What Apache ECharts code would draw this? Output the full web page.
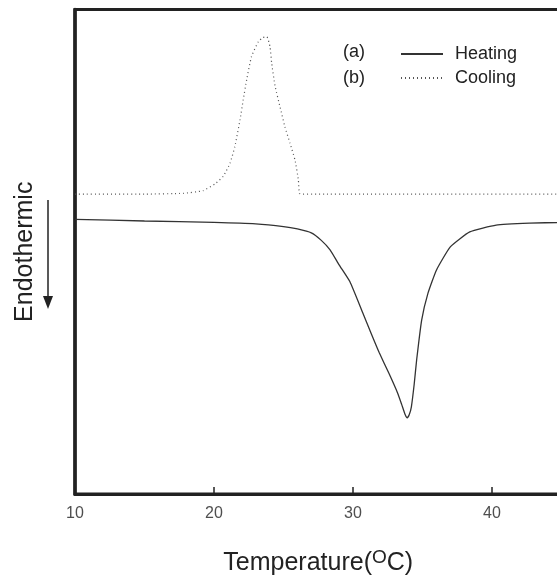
<!DOCTYPE html>
<html>
<head>
<meta charset="utf-8">
<script src="https://cdn.jsdelivr.net/npm/echarts@6/dist/echarts.min.js"></script>
<style>html,body{margin:0;padding:0;background:#fff;}#c{width:557px;height:575px;}</style>
</head>
<body>
<div id="c"></div>
<script>
// Temperature (°C) and relative heat-flow values (arbitrary units, endothermic down)
const heatingT = [10, 15, 20, 23, 25, 26, 27, 27.7, 28.35, 29.0, 29.78, 30.7, 31.3, 31.9, 32.6, 33.2, 33.5, 33.75, 33.9, 34.05, 34.2, 34.4, 34.58, 34.94, 35.4, 36.0, 37.0, 38.4, 40.3, 42.7, 45];
const heatingV = [56.7, 56.35, 56.05, 55.75, 55.2, 54.7, 53.9, 52.4, 50.4, 47.3, 43.8, 37.4, 33.2, 29.1, 24.8, 20.9, 18.5, 16.4, 15.7, 16.4, 18.0, 22.6, 27.7, 35.9, 41.5, 46.2, 51.0, 54.1, 55.5, 55.9, 56.05];
const coolingT = [10, 15, 17.8, 19.2, 20.07, 20.67, 21.15, 21.5, 21.87, 22.1, 22.35, 22.7, 23.2, 23.5, 23.8, 24.03, 24.15, 24.4, 24.75, 25.1, 25.47, 25.83, 26.07, 26.14, 26.3, 45];
const coolingV = [61.9, 61.9, 62.06, 62.6, 64.0, 65.6, 68.25, 71.7, 77.2, 81.3, 85.5, 90.3, 93.4, 94.2, 94.4, 92.3, 88.9, 84.1, 79.9, 75.8, 72.4, 68.9, 64.8, 62.06, 61.9, 61.9];
const xTicks = [10, 20, 30, 40];
const seriesNames = ['Heating', 'Cooling'];
const seriesTags = ['(a)', '(b)'];

const zip = (a, b) => a.map((v, i) => [v, b[i]]);
const chart = echarts.init(document.getElementById('c'));
chart.setOption({
  animation: false,
  backgroundColor: '#fff',
  textStyle: { fontFamily: 'Liberation Sans, Arial, sans-serif' },
  // plot area continues past the right edge of the picture (cropped as in the original)
  grid: { left: 75, right: -4.5, top: 9.5, bottom: 81, outerBoundsMode: 'none', containLabel: false,
    show: true, borderColor: '#222', borderWidth: 3, backgroundColor: 'transparent' },
  legend: {
    orient: 'vertical', left: 400, top: 45, itemWidth: 42, itemHeight: 18, itemGap: 6, padding: 0,
    data: seriesNames, textStyle: { fontSize: 18, lineHeight: 18, color: '#222', padding: [0, 0, 0, 7] },
    itemStyle: { opacity: 0 }
  },
  xAxis: {
    type: 'value', min: 10, max: 45, interval: 10,
    axisLine: { show: true, lineStyle: { color: '#222', width: 3 } },
    axisTick: { show: true, inside: true, length: 7, customValues: xTicks, lineStyle: { color: '#222', width: 1.5 } },
    axisLabel: { show: false },
    splitLine: { show: false },
    name: 'Temperature({sup|O}C)', nameLocation: 'middle', nameGap: 54,
    nameTextStyle: { fontSize: 25, color: '#222', rich: { sup: { fontSize: 19, color: '#222', verticalAlign: 'top', padding: [0, 0, 12, 0] } } }
  },
  yAxis: {
    type: 'value', min: 0, max: 100,
    axisLine: { show: true, lineStyle: { color: '#222', width: 3.5 } },
    axisTick: { show: false }, axisLabel: { show: false }, splitLine: { show: false },
    name: 'Endothermic', nameLocation: 'middle', nameGap: 37, nameRotate: 90,
    nameTextStyle: { fontSize: 25, color: '#222' }
  },
  graphic: [
    { type: 'text', left: 343, top: 43, style: { text: seriesTags[0], fontSize: 18, fill: '#222', fontFamily: 'Liberation Sans, Arial, sans-serif' } },
    { type: 'text', left: 343, top: 69, style: { text: seriesTags[1], fontSize: 18, fill: '#222', fontFamily: 'Liberation Sans, Arial, sans-serif' } },
    { type: 'line', shape: { x1: 48, y1: 200, x2: 48, y2: 304 }, style: { stroke: '#222', lineWidth: 1.5 } },
    { type: 'polygon', shape: { points: [[43, 296], [53, 296], [48, 309]] }, style: { fill: '#222' } }
  ],
  series: [
    { name: seriesNames[0], type: 'line', data: zip(heatingT, heatingV), showSymbol: false, symbol: 'none',
      smooth: 0.15, lineStyle: { color: '#333', width: 1.3 }, itemStyle: { color: '#333' } },
    { name: seriesNames[1], type: 'line', data: zip(coolingT, coolingV), showSymbol: false, symbol: 'none',
      smooth: 0.15, lineStyle: { color: '#555', width: 1.2, type: [1, 3] }, itemStyle: { color: '#555' } },
    // tick labels of the temperature axis, placed through the axis scale
    { name: 'ticks', type: 'scatter', data: xTicks.map(t => [t, 0]), symbolSize: 0, silent: true, clip: false,
      label: { show: true, position: 'bottom', distance: 12, fontSize: 16, color: '#222',
        fontFamily: 'Liberation Sans, Arial, sans-serif', formatter: p => String(p.value[0]) } }
  ]
});
</script>
</body>
</html>
